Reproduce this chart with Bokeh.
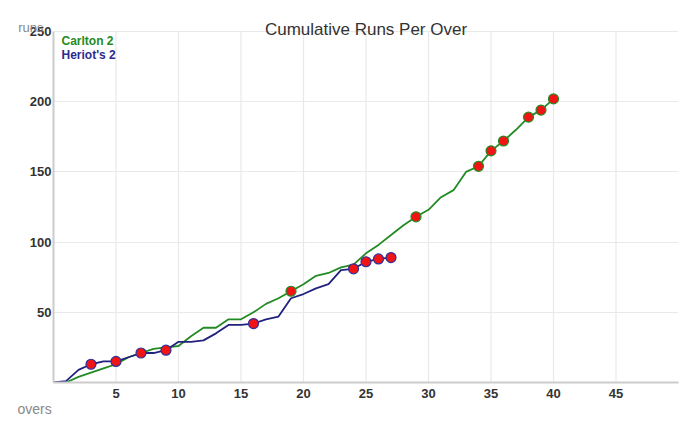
from bokeh.plotting import figure
from bokeh.models import Range1d, FixedTicker, Label, ColumnDataSource, LinearAxis, Title
from bokeh.embed import file_html
from bokeh.resources import INLINE

# ---- data ----
carlton_overs = list(range(0, 41))
carlton_runs = [0, 0, 4, 7, 10, 13, 18, 21, 24, 25, 26, 33, 39, 39, 45, 45, 50, 56, 60, 65,
                70, 76, 78, 82, 84, 92, 98, 105, 112, 118, 123, 132, 137, 150, 154, 165, 172,
                180, 189, 194, 202]
carlton_wicket_overs = [19, 29, 34, 35, 36, 38, 39, 40]

heriots_overs = list(range(0, 28))
heriots_runs = [0, 1, 9, 13, 15, 15, 18, 21, 21, 23, 29, 29, 30, 35, 41, 41, 42, 45, 47, 60,
                63, 67, 70, 80, 81, 86, 88, 89]
heriots_wicket_overs = [3, 5, 7, 9, 16, 24, 25, 26, 27]

x_ticks = [5, 10, 15, 20, 25, 30, 35, 40, 45]
y_ticks = [50, 100, 150, 200, 250]

team_names = ["Carlton 2", "Heriot's 2"]
title_text = "Cumulative Runs Per Over"
x_label = "overs"
y_label = "runs"

GREEN = "#238b23"
NAVY = "#21217f"
RED = "#f01414"
FONT = "Liberation Sans"

X_MAX = 50
Y_MAX = 250
Y_TOP = Y_MAX * 382 / 351   # frame extends above the 250 line up to the canvas top

p = figure(width=680, height=420, output_backend="svg", toolbar_location=None,
           x_range=Range1d(0, X_MAX), y_range=Range1d(0, Y_TOP),
           min_border_left=53, min_border_right=2, min_border_top=0, min_border_bottom=38)
p.outline_line_color = None
p.background_fill_color = "white"
p.border_fill_color = "white"

for ax in (p.xaxis, p.yaxis):
    ax.axis_line_color = "#cccccc"
    ax.axis_line_width = 2
    ax.major_tick_line_color = None
    ax.minor_tick_line_color = None
    ax.major_tick_out = 0
    ax.major_tick_in = 0
    ax.minor_tick_out = 0
    ax.major_label_text_font = FONT
    ax.major_label_text_font_style = "bold"
    ax.major_label_text_font_size = "13px"
    ax.major_label_text_color = "#333333"
p.xaxis.ticker = FixedTicker(ticks=x_ticks)
p.yaxis.ticker = FixedTicker(ticks=y_ticks)
p.yaxis.bounds = (0, Y_MAX)
p.xaxis.major_label_standoff = 6
p.yaxis.major_label_standoff = 2

# "runs" label as an extra left axis with one labelled tick just above the top gridline
runs_axis = LinearAxis(ticker=FixedTicker(ticks=[Y_MAX + 2.5]),
                       major_label_overrides={Y_MAX + 2.5: y_label},
                       axis_line_color=None, major_tick_line_color=None,
                       minor_tick_line_color=None, major_tick_out=0, major_tick_in=0,
                       minor_tick_out=0, major_label_standoff=-17,
                       major_label_text_font=FONT, major_label_text_font_size="13px",
                       major_label_text_color="#888888")
p.add_layout(runs_axis, "left")

# "overs" label
p.add_layout(Title(text=x_label, align="left", offset=-36, standoff=0, vertical_align="top",
                   text_font=FONT, text_font_size="14px", text_font_style="normal",
                   text_color="#888888"), "below")

p.xgrid.visible = False
p.ygrid.ticker = FixedTicker(ticks=y_ticks)
p.ygrid.grid_line_color = "#e9e9e9"
p.ygrid.grid_line_width = 1.2
p.segment(x0=x_ticks, x1=x_ticks, y0=[0] * len(x_ticks), y1=[Y_MAX] * len(x_ticks),
          line_color="#e9e9e9", line_width=1.2, level="underlay")

src_c = ColumnDataSource(dict(x=carlton_overs, y=carlton_runs))
src_h = ColumnDataSource(dict(x=heriots_overs, y=heriots_runs))
p.line("x", "y", source=src_c, line_color=GREEN, line_width=1.8)
p.line("x", "y", source=src_h, line_color=NAVY, line_width=1.8)

wc = ColumnDataSource(dict(x=carlton_wicket_overs,
                           y=[carlton_runs[o] for o in carlton_wicket_overs]))
wh = ColumnDataSource(dict(x=heriots_wicket_overs,
                           y=[heriots_runs[o] for o in heriots_wicket_overs]))
p.scatter("x", "y", source=wc, size=10, fill_color=RED, line_color=GREEN, line_width=1.2)
p.scatter("x", "y", source=wh, size=10, fill_color=RED, line_color="#30309a", line_width=1.2)

# title
p.add_layout(Label(x=X_MAX / 2, y=Y_MAX, y_offset=2, text=title_text, text_align="center",
                   text_baseline="alphabetic", text_font=FONT, text_font_size="17px",
                   text_color="#333333"))

# legend
p.add_layout(Label(x=0, y=Y_MAX, x_offset=8, y_offset=-9, text=team_names[0], text_align="left",
                   text_baseline="middle", text_font=FONT, text_font_style="bold",
                   text_font_size="12px", text_color=GREEN))
p.add_layout(Label(x=0, y=Y_MAX, x_offset=8, y_offset=-23, text=team_names[1], text_align="left",
                   text_baseline="middle", text_font=FONT, text_font_style="bold",
                   text_font_size="12px", text_color="#2b2b8f"))

open("out.html", "w").write(file_html(p, INLINE))
